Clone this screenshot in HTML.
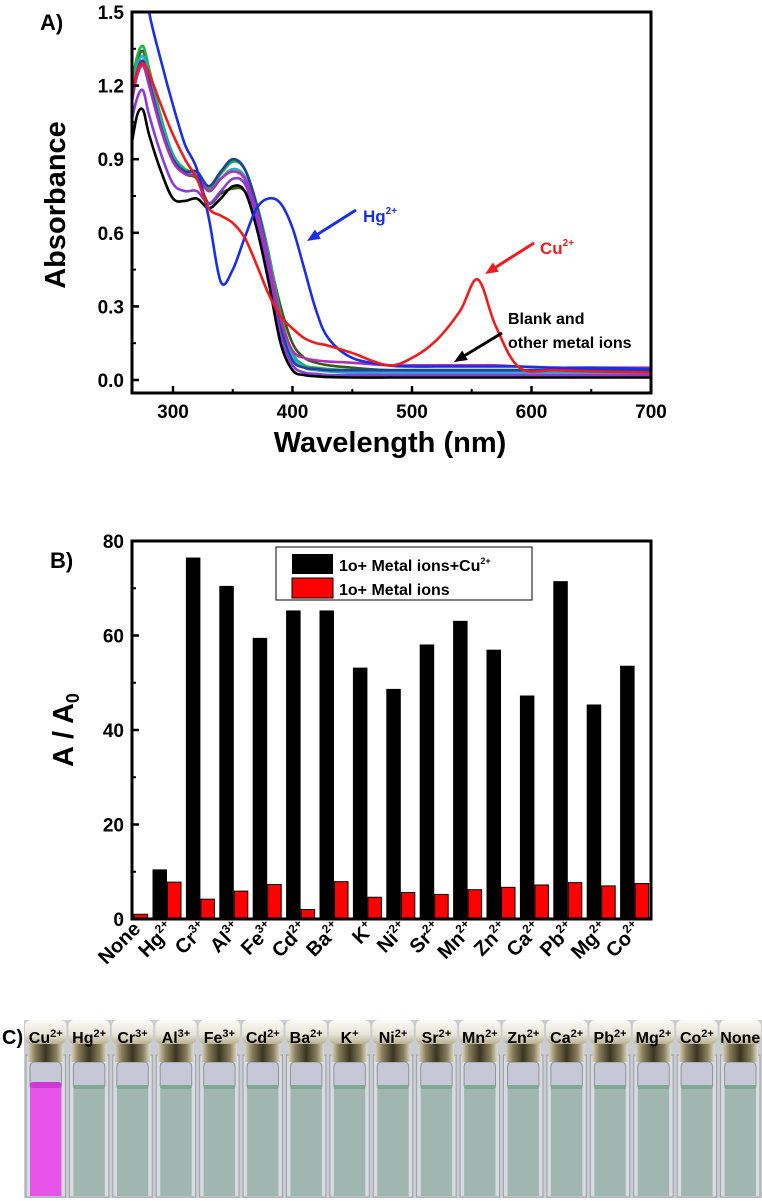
<!DOCTYPE html>
<html><head><meta charset="utf-8"><style>
body{margin:0;background:#fff;width:762px;height:1201px;overflow:hidden;font-family:"Liberation Sans",sans-serif}
svg{position:absolute;left:0;top:0}
</style></head><body>
<svg id="chart" width="762" height="1201" viewBox="0 0 762 1201">
<defs>
<clipPath id="clipA"><rect x="132" y="12" width="519" height="381"/></clipPath>
<linearGradient id="capG" x1="0" x2="1" y1="0" y2="0">
<stop offset="0" stop-color="#d8d2bc"/><stop offset="0.2" stop-color="#8a7f5c"/><stop offset="0.5" stop-color="#3a3420"/><stop offset="0.8" stop-color="#8a805e"/><stop offset="1" stop-color="#e0dccc"/></linearGradient>
<linearGradient id="capTop" x1="0" x2="0" y1="0" y2="1"><stop offset="0" stop-color="#fbfaf6"/><stop offset="0.6" stop-color="#e8e4d6"/><stop offset="1" stop-color="#b8b090"/></linearGradient>
</defs>
<g id="panelA"></g>
<g id="panelB"></g>
<g id="panelC"></g>
</svg>
<script>
const NS='http://www.w3.org/2000/svg';
function mk(p,t,a,txt){const e=document.createElementNS(NS,t);for(const k in a)e.setAttribute(k,a[k]);if(txt!==undefined)e.textContent=txt;p.appendChild(e);return e;}

// ---------- Panel A data ----------
const wavelengths=[265,270,275,280,290,300,310,320,330,340,350,360,370,380,390,400,410,420,430,450,480,500,520,540,555,570,590,620,650,700];
const seriesBlack=[0.95,1.08,1.10,1.00,0.85,0.74,0.73,0.74,0.70,0.74,0.79,0.77,0.62,0.40,0.15,0.04,0.02,0.015,0.012,0.01,0.01,0.01,0.01,0.01,0.01,0.01,0.01,0.01,0.01,0.01];
const seriesPurple=[1.05,1.15,1.18,1.08,0.92,0.80,0.77,0.77,0.72,0.77,0.82,0.80,0.66,0.44,0.18,0.06,0.03,0.025,0.02,0.02,0.02,0.02,0.02,0.02,0.02,0.02,0.02,0.02,0.02,0.02];
const seriesOlive=[1.18,1.30,1.34,1.25,1.05,0.90,0.84,0.82,0.72,0.76,0.78,0.77,0.66,0.50,0.30,0.15,0.09,0.07,0.06,0.05,0.04,0.04,0.04,0.04,0.04,0.04,0.04,0.04,0.035,0.035];
const seriesGreen=[1.2,1.32,1.36,1.27,1.07,0.92,0.86,0.84,0.78,0.84,0.89,0.86,0.72,0.52,0.27,0.11,0.06,0.05,0.045,0.04,0.04,0.04,0.04,0.04,0.04,0.04,0.04,0.035,0.035,0.035];
const seriesCyan=[1.16,1.28,1.32,1.24,1.05,0.91,0.85,0.84,0.77,0.82,0.86,0.83,0.70,0.50,0.24,0.10,0.05,0.04,0.035,0.03,0.03,0.03,0.03,0.03,0.03,0.03,0.03,0.03,0.03,0.03];
const seriesNavy=[1.14,1.26,1.30,1.22,1.03,0.90,0.85,0.85,0.79,0.85,0.90,0.86,0.71,0.49,0.22,0.08,0.05,0.045,0.04,0.04,0.04,0.04,0.04,0.04,0.04,0.04,0.04,0.04,0.04,0.04];
const seriesMagenta=[1.12,1.24,1.28,1.20,1.02,0.89,0.84,0.83,0.77,0.82,0.85,0.82,0.69,0.49,0.25,0.12,0.09,0.08,0.075,0.07,0.06,0.06,0.06,0.06,0.06,0.06,0.055,0.05,0.05,0.05];
const seriesHg=[2.2,1.9,1.7,1.5,1.3,1.12,0.96,0.86,0.66,0.40,0.45,0.58,0.70,0.74,0.72,0.62,0.45,0.28,0.17,0.09,0.06,0.055,0.055,0.055,0.055,0.055,0.055,0.05,0.05,0.045];
const seriesCu=[1.16,1.26,1.29,1.25,1.12,1.00,0.90,0.82,0.70,0.67,0.64,0.58,0.47,0.35,0.26,0.21,0.17,0.15,0.14,0.11,0.06,0.09,0.16,0.28,0.41,0.22,0.05,0.04,0.035,0.03];
const seriesList=[[seriesOlive,'#3b5a1a'],[seriesGreen,'#22b04a'],[seriesCyan,'#2aa8d0'],[seriesNavy,'#2040a0'],[seriesMagenta,'#b030b0'],[seriesPurple,'#8a3ae0'],[seriesBlack,'#000'],[seriesHg,'#1a2ee8'],[seriesCu,'#ee1c1c']];
const yTicksA=[0.0,0.3,0.6,0.9,1.2,1.5];
const xTicksA=[300,400,500,600,700];

const xA=w=>173+(w-300)*(478/400);
const yA=v=>380-v*(368/1.5);
function smoothPath(xs,ys){
  const p=xs.map((x,i)=>[x,ys[i]]);let d='M'+p[0][0].toFixed(1)+','+p[0][1].toFixed(1);
  for(let i=0;i<p.length-1;i++){const p0=p[i-1]||p[i],p1=p[i],p2=p[i+1],p3=p[i+2]||p2;
    const c1=[p1[0]+(p2[0]-p0[0])/6,p1[1]+(p2[1]-p0[1])/6],c2=[p2[0]-(p3[0]-p1[0])/6,p2[1]-(p3[1]-p1[1])/6];
    d+=`C${c1[0].toFixed(1)},${c1[1].toFixed(1)} ${c2[0].toFixed(1)},${c2[1].toFixed(1)} ${p2[0].toFixed(1)},${p2[1].toFixed(1)}`;}
  return d;}
const A=document.getElementById('panelA');
const curves=mk(A,'g',{'clip-path':'url(#clipA)'});
seriesList.forEach((s,i)=>{
  const path=mk(curves,'path',{d:smoothPath(wavelengths.map(xA),s[0].map(yA)),fill:'none',stroke:s[1],'stroke-width':2.6});
  
  
});
const frameA=mk(A,'rect',{x:132,y:12,width:519,height:381,fill:'none',stroke:'#000','stroke-width':3});

yTicksA.forEach(v=>{const y=yA(v);mk(A,'line',{x1:132,x2:139,y1:y,y2:y,stroke:'#000','stroke-width':2.5});
  if(v<1.5)mk(A,'line',{x1:132,x2:136,y1:yA(v+0.15),y2:yA(v+0.15),stroke:'#000','stroke-width':2});
  const t=mk(A,'text',{x:124,y:y+7,'text-anchor':'end','font-size':19,'font-weight':'bold'},v.toFixed(1));
  });
xTicksA.forEach(v=>{const x=xA(v);mk(A,'line',{x1:x,x2:x,y1:393,y2:386,stroke:'#000','stroke-width':2.5});
  if(v<700)mk(A,'line',{x1:xA(v+50),x2:xA(v+50),y1:393,y2:389,stroke:'#000','stroke-width':2});
  const t=mk(A,'text',{x:x,y:418,'text-anchor':'middle','font-size':19,'font-weight':'bold'},v);
  });
let t;
t=mk(A,'text',{x:390,y:452,'text-anchor':'middle','font-size':29,'font-weight':'bold'},'Wavelength (nm)');
t=mk(A,'text',{x:0,y:0,'text-anchor':'middle','font-size':29,'font-weight':'bold',transform:'translate(65,205) rotate(-90)'},'Absorbance');
t=mk(A,'text',{x:40,y:30,'font-size':22,'font-weight':'bold'},'A)');
function arrow(p,x1,y1,x2,y2,c,name){const g=mk(p,'g',{});
  const a=Math.atan2(y2-y1,x2-x1),L=14;mk(g,'line',{x1,y1,x2:x2-Math.cos(a)*8,y2:y2-Math.sin(a)*8,stroke:c,'stroke-width':3});
  mk(g,'polygon',{points:`${x2},${y2} ${x2-L*Math.cos(a-0.4)},${y2-L*Math.sin(a-0.4)} ${x2-L*Math.cos(a+0.4)},${y2-L*Math.sin(a+0.4)}`,fill:c});}
arrow(A,356,210,307,241,'#1a2ee8','hg-arrow');
arrow(A,534,243,485,274,'#ee1c1c','cu-arrow');
arrow(A,502,333,454,362,'#000','blank-arrow');
t=mk(A,'text',{x:363,y:222,'font-size':17,'font-weight':'bold',fill:'#1a2ee8'});t.innerHTML='Hg<tspan font-size="10" dy="-8">2+</tspan>';
t=mk(A,'text',{x:540,y:254,'font-size':17,'font-weight':'bold',fill:'#ee1c1c'});t.innerHTML='Cu<tspan font-size="10" dy="-8">2+</tspan>';
t=mk(A,'text',{x:508,y:324,'font-size':16,'font-weight':'bold'},'Blank and');
t=mk(A,'text',{x:508,y:348,'font-size':16,'font-weight':'bold'},'other metal ions');

// ---------- Panel B data ----------
const ions=['None','Hg','Cr','Al','Fe','Cd','Ba','K','Ni','Sr','Mn','Zn','Ca','Pb','Mg','Co'];
const charges=['','2+','3+','3+','3+','2+','2+','+','2+','2+','2+','2+','2+','2+','2+','2+'];
const withCu=[0.3,10.5,76.5,70.5,59.5,65.3,65.3,53.2,48.7,58.1,63.1,57.0,47.3,71.5,45.4,53.6];
const withoutCu=[1.0,7.8,4.2,5.9,7.3,2.0,7.9,4.6,5.6,5.2,6.2,6.7,7.2,7.7,7.0,7.5];
const yTicksB=[0,20,40,60,80];

const B=document.getElementById('panelB');
const yB=v=>919-v*(378/80);
const gx=i=>133.6+i*33.4;
const bw=14.5;
ions.forEach((n,i)=>{
  const x=gx(i);
  const b=mk(B,'rect',{x:x-bw,y:yB(withCu[i]),width:bw,height:919-yB(withCu[i]),fill:'#000'});
  
  const r=mk(B,'rect',{x:x+0.5,y:yB(withoutCu[i]),width:bw-1,height:919-yB(withoutCu[i]),fill:'#f00',stroke:'#000','stroke-width':1});
  
  const lab=mk(B,'text',{x:0,y:0,'text-anchor':'end','font-size':20,'font-weight':'bold',transform:`translate(${x+8},930) rotate(-45)`});
  lab.innerHTML=n+(charges[i]?`<tspan font-size="12" dy="-8">${charges[i]}</tspan>`:'');
  
});
mk(B,'rect',{x:120,y:540,width:12,height:385,fill:'#fff'});
const frameB=mk(B,'rect',{x:132,y:541,width:519,height:378,fill:'none',stroke:'#000','stroke-width':3});

yTicksB.forEach(v=>{const y=yB(v);mk(B,'line',{x1:132,x2:139,y1:y,y2:y,stroke:'#000','stroke-width':2.5});
  if(v<80)mk(B,'line',{x1:132,x2:136,y1:yB(v+10),y2:yB(v+10),stroke:'#000','stroke-width':2});
  const t=mk(B,'text',{x:124,y:y+7,'text-anchor':'end','font-size':19,'font-weight':'bold'},v);
  });
t=mk(B,'text',{x:0,y:0,'text-anchor':'middle','font-size':29,'font-weight':'bold',transform:'translate(73,730) rotate(-90)'});t.innerHTML='A / A<tspan font-size="18" dy="6">0</tspan>';
t=mk(B,'text',{x:50,y:568,'font-size':22,'font-weight':'bold'},'B)');
const lg=mk(B,'g',{});
mk(lg,'rect',{x:276,y:547,width:256,height:53,fill:'#fff',stroke:'#000','stroke-width':1});
mk(lg,'rect',{x:292,y:554,width:41,height:20,fill:'#000'});
mk(lg,'rect',{x:292,y:578,width:41,height:20,fill:'#f00',stroke:'#000','stroke-width':1});
t=mk(lg,'text',{x:339,y:571,'font-size':16,'font-weight':'bold'});t.innerHTML='1o+ Metal ions+Cu<tspan font-size="9" dy="-7">2+</tspan>';
t=mk(lg,'text',{x:339,y:595,'font-size':16,'font-weight':'bold'},'1o+ Metal ions');

// ---------- Panel C ----------
const vials=['Cu','Hg','Cr','Al','Fe','Cd','Ba','K','Ni','Sr','Mn','Zn','Ca','Pb','Mg','Co','None'];
const vialCharges=['2+','2+','3+','3+','3+','2+','2+','+','2+','2+','2+','2+','2+','2+','2+','2+',''];
const C=document.getElementById('panelC');
t=mk(C,'text',{x:2,y:1044,'font-size':20,'font-weight':'bold'},'C)');
mk(C,'rect',{x:24,y:1020,width:738,height:178,fill:'#c9ccd2'});
const vw=738/17;
vials.forEach((n,i)=>{
  const x=24+i*vw;const g=mk(C,'g',{});
  
  mk(g,'rect',{x:x+2,y:1055,width:vw-4,height:142,fill:'#d8dbe0',stroke:'#9aa0a6','stroke-width':1});
  mk(g,'rect',{x:x+6,y:1062,width:vw-12,height:28,rx:4,fill:'#c6c8d8',stroke:'#8e949a','stroke-width':1});
  mk(g,'rect',{x:x+6,y:1086,width:vw-12,height:110,fill:i===0?'#e653e8':'#a0b6b1'});
  if(i===0)mk(g,'rect',{x:x+6,y:1082,width:vw-12,height:6,rx:3,fill:'#cc38d4'});
  else mk(g,'rect',{x:x+6,y:1085,width:vw-12,height:4,rx:2,fill:'#7eaa92'});
  mk(g,'rect',{x:x+4,y:1040,width:vw-8,height:22,fill:'url(#capG)'});
  mk(g,'rect',{x:x+1,y:1020,width:vw-2,height:24,rx:6,fill:'url(#capTop)'});
  const lb=mk(g,'text',{x:x+vw/2,y:1043,'text-anchor':'middle','font-size':16,'font-weight':'bold',fill:'#000'});
  lb.innerHTML=n+(vialCharges[i]?`<tspan font-size="11" dy="-6">${vialCharges[i]}</tspan>`:'');
});
</script>
</body></html>
